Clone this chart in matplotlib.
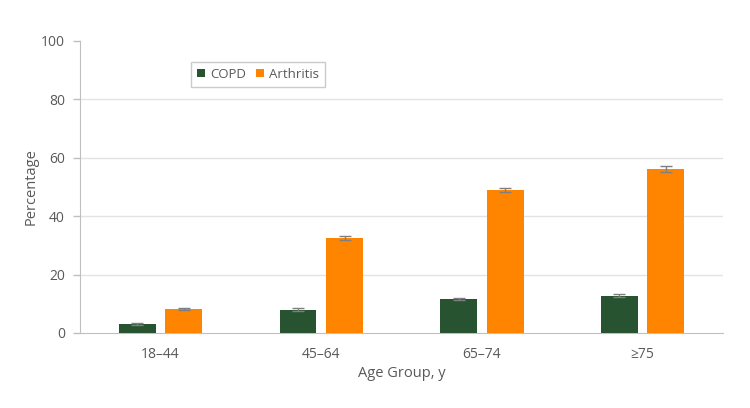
import matplotlib.pyplot as plt
import numpy as np

# Data
groups = ['18–44', '45–64', '65–74', '≥75']
copd = [3.1, 7.9, 11.6, 12.7]
copd_err = [0.3, 0.5, 0.4, 0.5]
arthritis = [8.1, 32.5, 49.0, 56.2]
arthritis_err = [0.4, 0.6, 0.7, 1.1]

plt.rcParams['font.family'] = ['Open Sans', 'DejaVu Sans']
text_col = '#595959'
axis_col = '#bfbfbf'

fig = plt.figure(figsize=(7.5, 4.08), dpi=100)
ax = fig.add_axes([0.107, 0.184, 0.857, 0.716])

x = np.arange(len(groups))
width = 0.23
off = 0.145
err_kw = dict(ecolor='#7f7f7f', capsize=4, elinewidth=1, capthick=1)
ax.bar(x - off, copd, width, yerr=copd_err, color='#285330', label='COPD',
       error_kw=err_kw, zorder=3)
ax.bar(x + off, arthritis, width, yerr=arthritis_err, color='#ff8500',
       label='Arthritis', error_kw=err_kw, zorder=3)

ax.set_xlim(-0.5, 3.5)
ax.set_ylim(0, 100)
ax.set_yticks(range(0, 101, 20))
ax.set_xticks(x)
ax.set_xticklabels(groups)
ax.tick_params(axis='x', length=0, pad=10, labelsize=10, labelcolor=text_col)
ax.tick_params(axis='y', length=5, width=1, color=axis_col, pad=6,
               labelsize=10, labelcolor=text_col)

for y in [20, 40, 60, 80]:
    ax.axhline(y, color='#e3e3e3', lw=1, zorder=0)

for s in ['top', 'right']:
    ax.spines[s].set_visible(False)
ax.spines['left'].set_color(axis_col)
ax.spines['bottom'].set_color(axis_col)

ax.set_ylabel('Percentage', fontsize=10.5, color=text_col, labelpad=2)
ax.set_xlabel('Age Group, y', fontsize=10.5, color=text_col, labelpad=3)

leg = ax.legend(loc='upper left', bbox_to_anchor=(0.173, 0.928), ncol=2,
                borderaxespad=0, frameon=True, fancybox=False,
                edgecolor='#bfbfbf', fontsize=9.5, handlelength=0.6,
                handleheight=0.6, handletextpad=0.35, columnspacing=0.8,
                borderpad=0.45)
for t in leg.get_texts():
    t.set_color(text_col)

fig.savefig('out.png', dpi=100)
